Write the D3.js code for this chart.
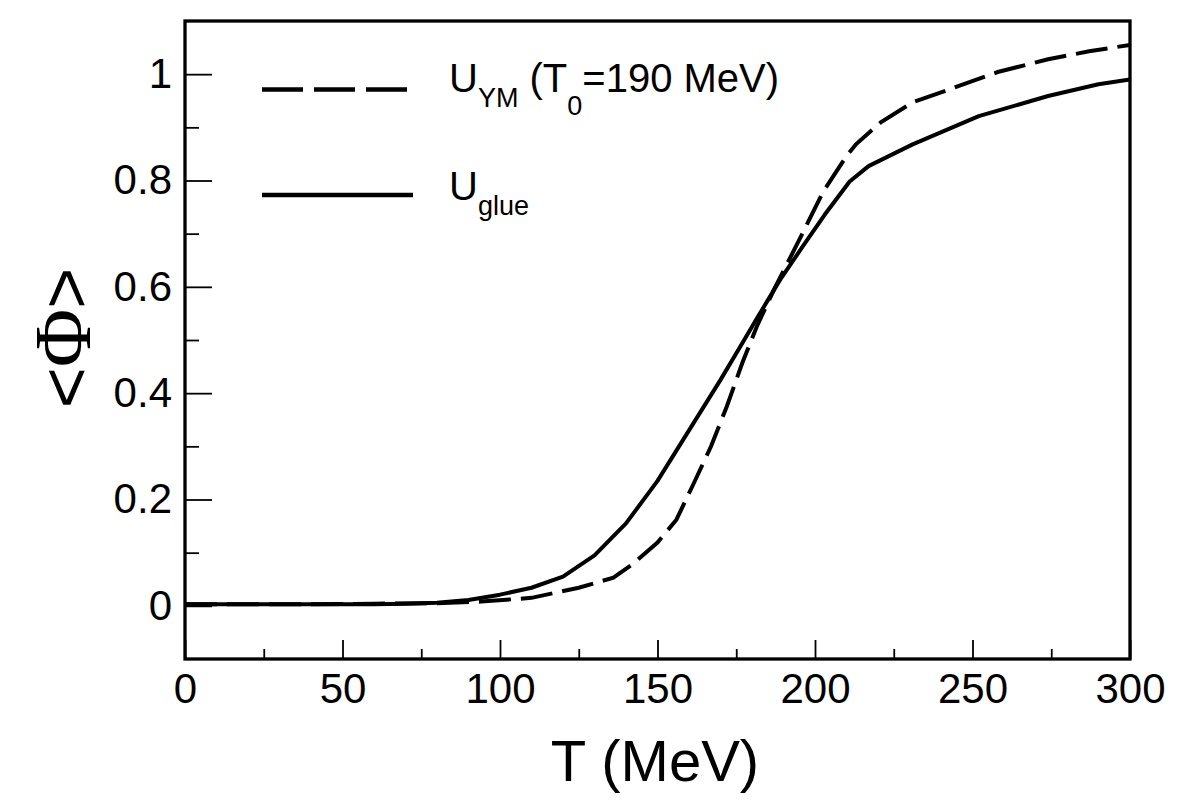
<!DOCTYPE html>
<html>
<head>
<meta charset="utf-8">
<script src="https://cdn.jsdelivr.net/npm/d3@7"></script>
<style>
  html, body { margin: 0; padding: 0; background: #fff; }
  svg text { font-family: "Liberation Sans", Arial, Helvetica, sans-serif; fill: #000; }
</style>
</head>
<body>
<svg id="chart" width="1182" height="800"></svg>
<script>
// ---- data ----
const glueT = [0, 20, 40, 60, 70, 80, 90, 100, 110, 120, 130, 140, 150, 160, 170, 177, 182, 189, 196, 203, 211, 217, 231, 252, 274, 290, 300];
const glueV = [0.003, 0.003, 0.003, 0.003, 0.004, 0.006, 0.011, 0.021, 0.034, 0.055, 0.095, 0.155, 0.235, 0.33, 0.425, 0.495, 0.545, 0.614, 0.675, 0.735, 0.798, 0.827, 0.868, 0.921, 0.959, 0.981, 0.99];

const ymT = [0, 20, 40, 60, 80, 94, 110, 125, 136, 142, 150, 156, 161, 167, 172, 177, 181.5, 187, 196, 202.5, 210, 213, 221, 231, 242, 258, 274, 287, 300];
const ymV = [0.003, 0.003, 0.003, 0.004, 0.005, 0.008, 0.015, 0.034, 0.053, 0.078, 0.119, 0.162, 0.224, 0.30, 0.375, 0.458, 0.525, 0.595, 0.70, 0.778, 0.846, 0.868, 0.91, 0.947, 0.970, 1.004, 1.028, 1.043, 1.055];

const xTicks = [0, 50, 100, 150, 200, 250, 300];
const xMinorTicks = [25, 75, 125, 175, 225, 275];
const yTicks = [0, 0.2, 0.4, 0.6, 0.8, 1];
const yMinorTicks = [0.1, 0.3, 0.5, 0.7, 0.9];

// ---- layout ----
const svg = d3.select("#chart");
const L = 185, R = 1130, T = 21, B = 659;

const x = d3.scaleLinear().domain([0, 300]).range([L, R]);
const y = d3.scaleLinear().domain([-0.1, 1.1]).range([B, T]);

// ticks (inward)
const gx = svg.append("g").attr("transform", `translate(0,${B})`)
  .call(d3.axisBottom(x).tickValues(xTicks).tickSize(-19)
    .tickFormat(d3.format("d")));
gx.select(".domain").remove();
gx.selectAll(".tick line").attr("stroke", "#000").attr("stroke-width", 1.8);
gx.selectAll(".tick text").attr("font-size", 42).attr("dy", "0.71em").attr("y", 14);

const gxm = svg.append("g").attr("transform", `translate(0,${B})`)
  .call(d3.axisBottom(x).tickValues(xMinorTicks).tickSize(-10).tickFormat(""));
gxm.select(".domain").remove();
gxm.selectAll(".tick line").attr("stroke", "#000").attr("stroke-width", 1.8);

const gy = svg.append("g").attr("transform", `translate(${L},0)`)
  .call(d3.axisLeft(y).tickValues(yTicks).tickSize(-27)
    .tickFormat(d => d === 0 ? "0" : d === 1 ? "1" : d3.format(".1f")(d)));
gy.select(".domain").remove();
gy.selectAll(".tick line").attr("stroke", "#000").attr("stroke-width", 1.8);
gy.selectAll(".tick text").attr("font-size", 42).attr("x", -13);

const gym = svg.append("g").attr("transform", `translate(${L},0)`)
  .call(d3.axisLeft(y).tickValues(yMinorTicks).tickSize(-14).tickFormat(""));
gym.select(".domain").remove();
gym.selectAll(".tick line").attr("stroke", "#000").attr("stroke-width", 1.8);

// curves
const line = d3.line().x(d => x(d[0])).y(d => y(d[1])).curve(d3.curveLinear);
svg.append("clipPath").attr("id", "clip").append("rect")
  .attr("x", L).attr("y", T).attr("width", R - L).attr("height", B - T);

svg.append("path").datum(d3.zip(glueT, glueV))
  .attr("d", line).attr("fill", "none").attr("stroke", "#000")
  .attr("stroke-width", 4).attr("stroke-linejoin", "round")
  .attr("clip-path", "url(#clip)");

svg.append("path").datum(d3.zip(ymT, ymV))
  .attr("d", line).attr("fill", "none").attr("stroke", "#000")
  .attr("stroke-width", 4).attr("stroke-dasharray", "32,10")
  .attr("clip-path", "url(#clip)");

// frame
svg.append("rect").attr("x", L).attr("y", T).attr("width", R - L).attr("height", B - T)
  .attr("fill", "none").attr("stroke", "#000").attr("stroke-width", 3.3);

// legend
svg.append("line").attr("x1", 262).attr("x2", 407).attr("y1", 89.5).attr("y2", 89.5)
  .attr("stroke", "#000").attr("stroke-width", 4.5).attr("stroke-dasharray", "41,11");
svg.append("line").attr("x1", 262).attr("x2", 413).attr("y1", 195).attr("y2", 195)
  .attr("stroke", "#000").attr("stroke-width", 4.5);

const t1 = svg.append("text").attr("x", 449).attr("y", 92).attr("font-size", 40);
t1.append("tspan").text("U");
t1.append("tspan").attr("dy", 15).attr("font-size", 27).text("YM");
t1.append("tspan").attr("dy", -15).text(" (T");
t1.append("tspan").attr("dy", 23).attr("font-size", 27).text("0");
t1.append("tspan").attr("dy", -23).text("=190 MeV)");

const t2 = svg.append("text").attr("x", 449).attr("y", 200).attr("font-size", 40);
t2.append("tspan").text("U");
t2.append("tspan").attr("dy", 15).attr("font-size", 27).text("glue");

// axis titles
svg.append("text").attr("x", 655).attr("y", 781).attr("text-anchor", "middle")
  .attr("font-size", 58).text("T (MeV)");
const yl = svg.append("text").attr("transform", "translate(90,338) rotate(-90)")
  .attr("text-anchor", "middle").attr("font-size", 70);
yl.append("tspan").text("<");
yl.append("tspan").attr("font-family", "'Liberation Serif', 'DejaVu Serif', serif").attr("font-size", 80).text("Φ");
yl.append("tspan").text(">");
</script>
</body>
</html>
